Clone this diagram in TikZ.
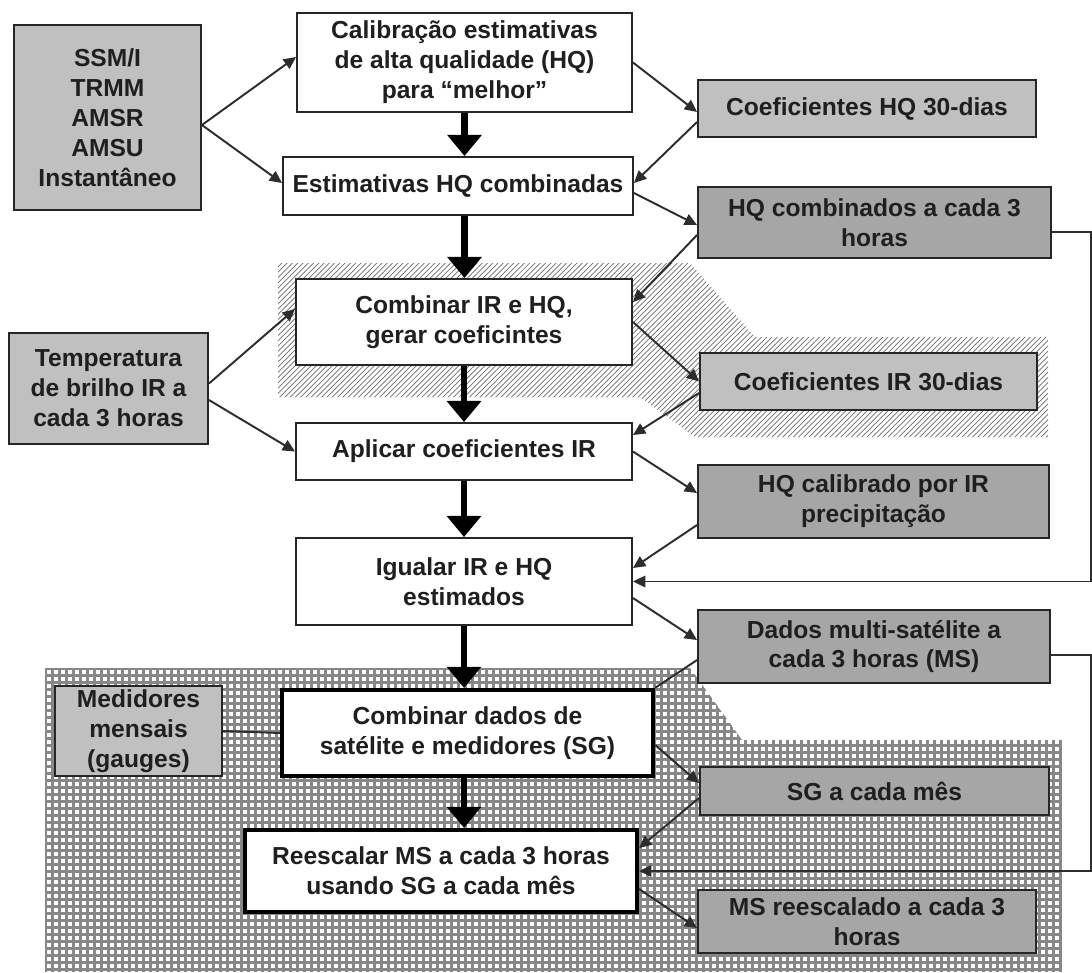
\documentclass[tikz,border=0pt]{standalone}
\usepackage{fontspec}
\setmainfont{Liberation Sans}
\usetikzlibrary{arrows.meta,patterns}
\definecolor{boxgray}{RGB}{192,192,192}
\definecolor{boxdark}{RGB}{166,166,166}
\definecolor{hatchgray}{RGB}{110,110,110}
\definecolor{gridgray}{RGB}{135,135,135}
\definecolor{linegray}{RGB}{45,45,45}

\begin{document}
\begin{tikzpicture}[x=0.2mm,y=-0.2mm,
  every node/.style={font=\fontsize{14}{17}\selectfont\bfseries,text=black!88,align=center,inner sep=0pt},
  procbox/.style={draw=black!85,line width=1.1pt,fill=white},
  strongbox/.style={draw=black,line width=2.4pt,fill=white},
  lightbox/.style={draw=black!85,line width=1.1pt,fill=boxgray},
  darkbox/.style={draw=black!85,line width=1.1pt,fill=boxdark},
  thinarr/.style={draw=linegray,line width=1.1pt,-{Triangle[length=7pt,width=6.5pt]}},
  thinline/.style={draw=linegray,line width=1.1pt},
  bigarr/.style={draw=black,line width=3.6pt,-{Triangle[length=12pt,width=19pt]}},
  gridline/.style={draw=gridgray,line width=0.6mm}]
  \fill[white] (0,0) rectangle (1092,972);
  \useasboundingbox (0,0) rectangle (1092,972);
  % hatched band round the IR coefficient step
  \fill[pattern=north east lines,pattern color=hatchgray]
    (278,263) -- (690,263) -- (755,337) -- (1048,337) -- (1048,437)
    -- (695,437) -- (640,397) -- (278,397) -- cycle;
  % grid area of the gauge step
  \begin{scope}
    \clip (45,668) -- (690,668) -- (742,740) -- (1062,740) -- (1062,972) -- (45,972) -- cycle;
    \foreach \gx in {45,52,...,1062}
      \draw[gridline] (\gx,668) -- (\gx,972);
    \foreach \gy in {668,675,...,972}
      \draw[gridline] (45,\gy) -- (1062,\gy);
  \end{scope}

  % inputs
  \node[lightbox,minimum width=37.4mm,minimum height=37mm] (ssm) at (107.5,117.5)
    {SSM/I\\TRMM\\AMSR\\AMSU\\Instantâneo};
  \node[lightbox,minimum width=39.8mm,minimum height=22.2mm] (temp) at (108.5,388.5)
    {Temperatura\\de brilho IR a\\cada 3 horas};
  \node[lightbox,minimum width=33.4mm,minimum height=18mm] (medid) at (138.5,731)
    {Medidores\\mensais\\(gauges)};

  % processing chain
  \node[procbox,minimum width=67mm,minimum height=19.8mm] (calib) at (464.5,62.5)
    {Calibração estimativas\\de alta qualidade (HQ)\\para “melhor”};
  \node[procbox,minimum width=70mm,minimum height=11.6mm] (estim) at (458,186)
    {Estimativas HQ combinadas};
  \node[procbox,minimum width=67.2mm,minimum height=17.2mm] (combir) at (464,322)
    {Combinar IR e HQ,\\gerar coeficintes};
  \node[procbox,minimum width=67.2mm,minimum height=11.4mm] (aplic) at (464,451.5)
    {Aplicar coeficientes IR};
  \node[procbox,minimum width=67.2mm,minimum height=17.4mm] (igual) at (464,581.5)
    {Igualar IR e HQ\\estimados};
  \node[strongbox,minimum width=74.2mm,minimum height=17.2mm] (combsg) at (467.5,733)
    {Combinar dados de\\satélite e medidores (SG)};
  \node[strongbox,minimum width=78.4mm,minimum height=16.4mm] (resc) at (441,871)
    {Reescalar MS a cada 3 horas\\usando SG a cada mês};

  % products
  \node[lightbox,minimum width=67.6mm,minimum height=11.4mm] (coefhq) at (867,108.5)
    {Coeficientes HQ 30-dias};
  \node[darkbox,minimum width=70.6mm,minimum height=14.2mm] (hqcomb) at (874.5,222.5)
    {HQ combinados a cada 3\\horas};
  \node[lightbox,minimum width=67.4mm,minimum height=11.4mm] (coefir) at (868.5,381.5)
    {Coeficientes IR 30-dias};
  \node[darkbox,minimum width=70.2mm,minimum height=14.6mm] (hqcal) at (873.5,501.5)
    {HQ calibrado por IR\\precipitação};
  \node[darkbox,minimum width=70.4mm,minimum height=14.6mm] (dados) at (874,646.5)
    {Dados multi-satélite a\\cada 3 horas (MS)};
  \node[darkbox,minimum width=69.8mm,minimum height=9.6mm] (sgmes) at (874.5,791)
    {SG a cada mês};
  \node[darkbox,minimum width=67.6mm,minimum height=12.6mm] (msresc) at (867,921.5)
    {MS reescalado a cada 3\\horas};

  % main flow
  \draw[bigarr] (calib.south) -- (calib.south |- estim.north);
  \draw[bigarr] (estim.south -| calib.south) -- (calib.south |- combir.north);
  \draw[bigarr] (combir.south) -- (aplic.north);
  \draw[bigarr] (aplic.south) -- (igual.north);
  \draw[bigarr] (igual.south) -- (igual.south |- combsg.north);
  \draw[bigarr] (combsg.south -| igual.south) -- (igual.south |- resc.north);

  % side links
  \draw[thinarr] ([yshift=-1.5mm]ssm.east) -- ([yshift=1.1mm]calib.west);
  \draw[thinarr] ([yshift=-1.5mm]ssm.east) -- ([yshift=0.6mm]estim.west);
  \draw[thinarr] (calib.east) -- ([yshift=-0.7mm]coefhq.west);
  \draw[thinarr] ([yshift=-2.7mm]coefhq.west) -- ([yshift=0.6mm]estim.east);
  \draw[thinarr] ([yshift=-1.4mm]estim.east) -- ([yshift=-0.5mm]hqcomb.west);
  \draw[thinarr] ([yshift=-2.5mm]hqcomb.west) -- ([yshift=4mm]combir.east);
  \draw[thinarr] (combir.east) -- (coefir.west);
  \draw[thinarr] ([yshift=-2.3mm]coefir.west) -- ([yshift=3.3mm]aplic.east);
  \draw[thinarr] ([yshift=1mm]temp.east) -- ([yshift=2.6mm]combir.west);
  \draw[thinarr] ([yshift=-2.3mm]temp.east) -- (aplic.west);
  \draw[thinarr] (aplic.east) -- ([yshift=1.7mm]hqcal.west);
  \draw[thinarr] ([yshift=-4.7mm]hqcal.west) -- ([yshift=2.7mm]igual.east);
  \draw[thinarr] ([yshift=-1.9mm]hqcomb.east) -- ++(39,0) |- (igual.east);
  \draw[thinarr] ([yshift=-3.3mm]igual.east) -- ([yshift=1.3mm]dados.west);
  \draw[thinline] ([yshift=-2.7mm]dados.west) -- (combsg.north east);
  \draw[thinline] (medid.east) -- (combsg.west);
  \draw[thinarr] ([yshift=-2.4mm]combsg.east) -- ([yshift=1.6mm]sgmes.west);
  \draw[thinarr] ([yshift=-1.4mm]sgmes.west) -- ([yshift=4.6mm]resc.east);
  \draw[thinarr] ([yshift=-1.7mm]dados.east) -- ++(40,0) |- (resc.east);
  \draw[thinarr] ([yshift=-3.6mm]resc.east) -- ([yshift=-1.3mm]msresc.west);
\end{tikzpicture}
\end{document}
